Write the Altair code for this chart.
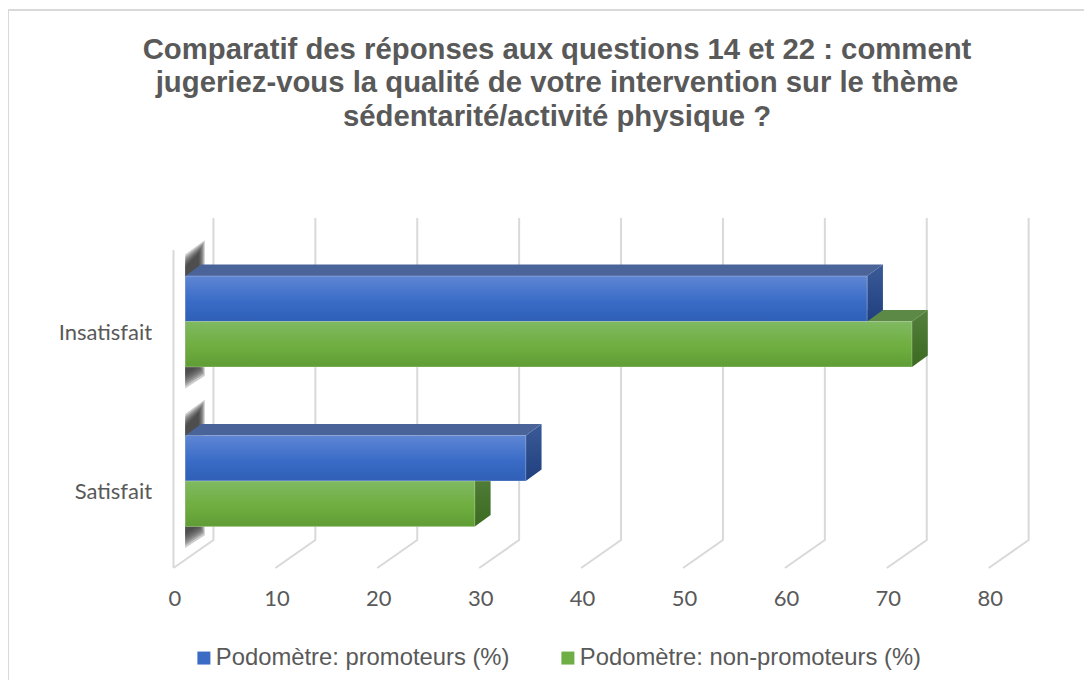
import altair as alt
import pandas as pd

categories = ["Satisfait", "Insatisfait"]
series_names = ["Podomètre: promoteurs (%)", "Podomètre: non-promoteurs (%)"]
promoteurs = [33.4, 66.9]
non_promoteurs = [28.4, 71.3]
ticks = [0, 10, 20, 30, 40, 50, 60, 70, 80]
title_lines = [
    "Comparatif des réponses aux questions 14 et 22 : comment",
    "jugeriez-vous la qualité de votre intervention sur le thème",
    "sédentarité/activité physique ?",
]

# 3D geometry, in scale units
X_DOMAIN = [-8.88, 84.15]
Y_DOMAIN = [-0.5455, 1.7618]
BAR_START = 1.17
BAR_H = 0.285
D_X = 1.55
D_Y = 0.072
WALL_X = 3.92
WALL_BOT = -0.37
FLOOR = -0.5455
WALL_TOP = 1.649
LEFT_TOP = 1.448

FONT_T = "Liberation Sans"
FONT_A = "Lato"
GREY = "#595959"
GRID = "#d9d9d9"


def grad(c0, c1, c2=None):
    stops = [{"offset": 0, "color": c0}]
    if c2:
        stops += [{"offset": 0.55, "color": c1}, {"offset": 1, "color": c2}]
    else:
        stops += [{"offset": 1, "color": c1}]
    return {"gradient": "linear", "x1": 0, "x2": 0, "y1": 0, "y2": 1, "stops": stops}


xs = alt.Scale(domain=X_DOMAIN, nice=False, zero=False)
ys = alt.Scale(domain=Y_DOMAIN, nice=False, zero=False)
x_axis = alt.Axis(
    values=ticks, title=None, grid=False, domain=False, ticks=False,
    labelFont=FONT_A, labelFontSize=22, labelColor=GREY, labelPadding=20, labelOffset=1,
    labelFlush=False, labelOverlap=False,
)
X = alt.X("x:Q", scale=xs, axis=x_axis)
Y = alt.Y("y:Q", scale=ys, axis=None)

fronts, tops, sides = [], [], []
for s, vals in enumerate([promoteurs, non_promoteurs]):
    for i, (cat, v) in enumerate(zip(categories, vals)):
        y_top = i + BAR_H if s == 0 else i
        y_bot = y_top - BAR_H
        x0, x1 = BAR_START, BAR_START + v
        key = f"{cat}"
        fronts.append(dict(series=series_names[s], s=s, cat=key, x=x0, x2=x1, y=y_top, y2=y_bot))
        for (a, b, c) in [
            (x0, y_top, y_top),
            (x0 + D_X, y_top + D_Y, y_top),
            (x1, y_top + D_Y, y_top),
            (x1 + D_X, y_top + D_Y, y_top + D_Y),
        ]:
            tops.append(dict(s=s, cat=key, x=a, y=b, y2=c))
        for (a, b, c) in [
            (x1, y_top, y_bot),
            (x1 + D_X, y_top + D_Y, y_bot + D_Y),
        ]:
            sides.append(dict(s=s, cat=key, x=a, y=b, y2=c))

grid_rows = []
for t in ticks:
    for o, (a, b) in enumerate([(t + WALL_X, WALL_TOP), (t + WALL_X, WALL_BOT), (t, FLOOR)]):
        grid_rows.append(dict(t=t, o=o, x=a, y=b))
left_rows = [dict(x=0, y=LEFT_TOP), dict(x=0, y=FLOOR)]

blur_rows = []
for k, m in enumerate([1.0, 0.83, 0.67, 0.5, 0.33, 0.17, 0.0]):
    for i, cat in enumerate(categories):
        for (a, b, c) in [
            (BAR_START - 0.02, i + 0.34 + 0.08 * m, i - 0.33 - 0.09 * m),
            (BAR_START + 1.3 + 0.6 * m, i + 0.43 + 0.08 * m, i - 0.28 - 0.06 * m),
        ]:
            blur_rows.append(dict(k=k, cat=cat, x=a, y=b, y2=c))

label_rows = [dict(x=-2.1, y=i - 0.072, label=c) for i, c in enumerate(categories)]

legend_scale = alt.Scale(domain=series_names, range=["#3a6cc6", "#6fae45"])

grid = alt.Chart(pd.DataFrame(grid_rows)).mark_line(color=GRID, strokeWidth=2).encode(
    x=X, y=Y, detail="t:N", order="o:Q"
)
left_wall = alt.Chart(pd.DataFrame(left_rows)).mark_line(color=GRID, strokeWidth=2).encode(x=X, y=Y)
blur = alt.Chart(pd.DataFrame(blur_rows)).mark_area(fill="#333333", opacity=0.25, orient="vertical").encode(
    x=X, y=Y, y2="y2:Q", detail=["k:N", "cat:N"]
)


def faces(rows, s, fill):
    df = pd.DataFrame([r for r in rows if r["s"] == s])
    return alt.Chart(df).mark_area(fill=fill, orient="vertical").encode(
        x=X, y=Y, y2="y2:Q", detail="cat:N"
    )


def front(s, fill):
    df = pd.DataFrame([r for r in fronts if r["s"] == s])
    return alt.Chart(df).mark_rect(fill=fill, stroke="#ffffff", strokeOpacity=0.25, strokeWidth=1).encode(
        x=X, x2="x2:Q", y=Y, y2="y2:Q"
    )


legend_base = alt.Chart(pd.DataFrame(fronts)).mark_rect().encode(
    x=X, x2="x2:Q", y=Y, y2="y2:Q",
    color=alt.Color("series:N", scale=legend_scale, title=None, legend=alt.Legend(
        orient="none", legendX=109, legendY=446, direction="horizontal", columns=2,
        symbolType="square", symbolSize=169, symbolStrokeWidth=0, labelFont=FONT_T, labelFontSize=23.8,
        labelColor=GREY, labelOffset=0, columnPadding=46, labelLimit=500,
    )),
)

labels = alt.Chart(pd.DataFrame(label_rows)).mark_text(
    align="right", baseline="middle", font=FONT_A, fontSize=22, color=GREY
).encode(x=X, y=Y, text="label:N")

border_left = alt.Chart(pd.DataFrame({"a": [0]})).mark_rule(color=GRID, strokeWidth=2).encode(
    x=alt.value(-75), y=alt.value(-190), y2=alt.value(480)
)
border_top = alt.Chart(pd.DataFrame({"a": [0]})).mark_rule(color=GRID, strokeWidth=2).encode(
    y=alt.value(-190), x=alt.value(-75), x2=alt.value(1001)
)

chart = alt.layer(
    border_left, border_top,
    grid, left_wall, blur, legend_base,
    faces(tops, 1, "#5c8a46"),
    faces(sides, 1, grad("#54803c", "#3b6a20")),
    faces(sides, 0, grad("#3a5a98", "#1f3f7e")),
    faces(tops, 0, "#4a6499"),
    front(0, grad("#5f86d4", "#3a6cc7", "#2f5fb6")),
    front(1, grad("#80b962", "#6fae3f", "#5f9d35")),
    labels,
).properties(
    width=948, height=368,
    padding={"left": 75, "right": 53, "top": 192, "bottom": 112},
    autosize=alt.AutoSizeParams(type="none"),
    background="white",
    title=alt.TitleParams(
        text=title_lines, font=FONT_T, fontSize=29.3, fontWeight="bold", color=GREY,
        lineHeight=33.5, offset=-123, anchor="middle",
    ),
).configure_view(stroke=None)

chart.save("out.html", embed_options={"renderer": "svg", "actions": False})
